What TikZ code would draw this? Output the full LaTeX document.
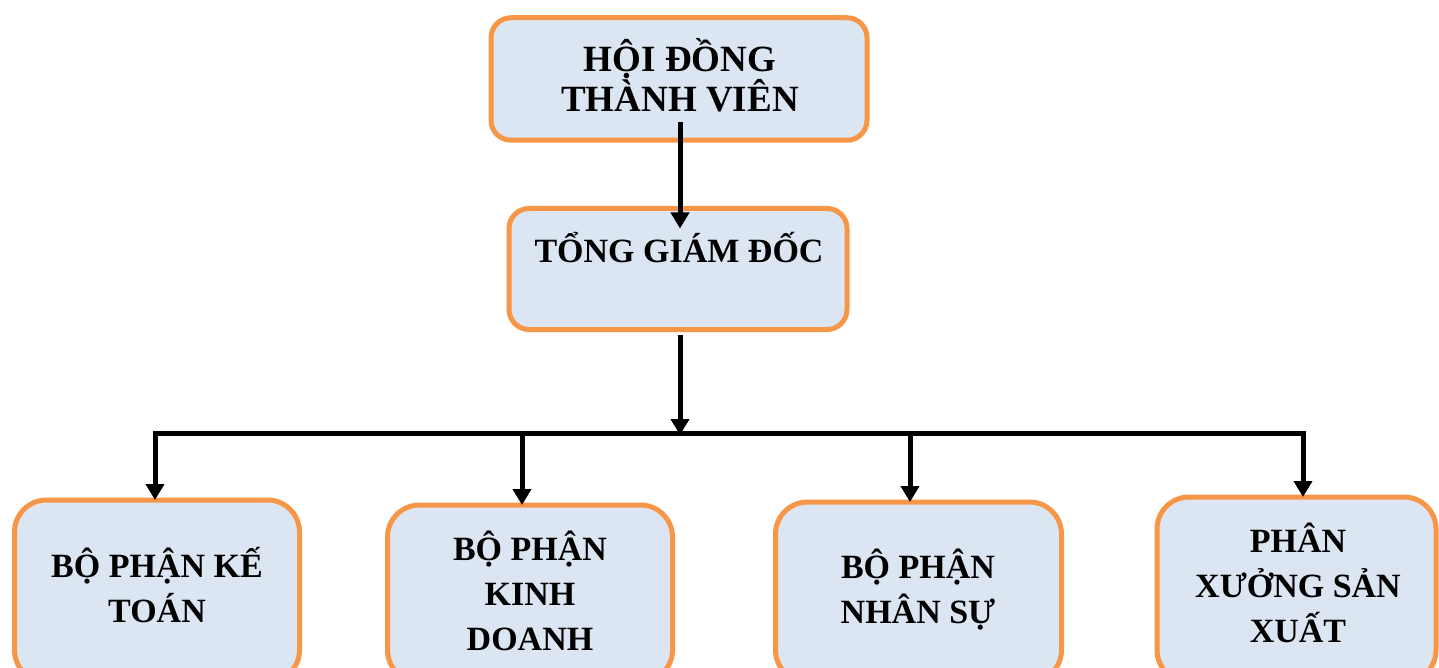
\documentclass[tikz,border=0pt]{standalone}
\usepackage{fontspec}
\setmainfont{Liberation Serif}
\usetikzlibrary{arrows.meta,calc}
\definecolor{boxfill}{HTML}{DCE6F2}
\definecolor{boxline}{HTML}{F79646}
\tikzset{
  orgbox/.style={draw=boxline, line width=5pt, fill=boxfill, rounded corners=#1,
    rectangle, inner sep=0pt, outer sep=0pt},
  orgbox/.default=20pt,
  toptext/.style={font=\bfseries\fontsize{37}{40}\selectfont, align=center, inner sep=0pt, anchor=base},
  subtext/.style={font=\bfseries\fontsize{34}{45}\selectfont, align=center, inner sep=0pt, anchor=base},
  conn/.style={line width=5pt, -{Triangle[width=18pt,length=16pt]}},
  plain/.style={line width=5pt},
}
\begin{document}
\begin{tikzpicture}[x=1pt,y=-1pt]
\useasboundingbox (0,0) rectangle (1439,668);
\clip (0,0) rectangle (1439,668);
% boxes
\node[orgbox, minimum width=376pt, minimum height=122.5pt] (hdtv) at (679,79) {};
\node[orgbox, minimum width=338pt, minimum height=121pt] (tgd) at (678,269) {};
\node[orgbox=32pt, minimum width=285pt, minimum height=182pt] (b1) at (157,591) {};
\node[orgbox=32pt, minimum width=285pt, minimum height=177pt] (b2) at (530,593.5) {};
\node[orgbox=32pt, minimum width=286pt, minimum height=180pt] (b3) at (918.5,592) {};
\node[orgbox=32pt, minimum width=279pt, minimum height=185pt] (b4) at (1296.5,589.5) {};
% texts (base anchor = baseline of the last line)
\node[toptext] (t0) at (680,112) {HỘI ĐỒNG\\THÀNH VIÊN};
\node[subtext] (t1) at (679,262) {TỔNG GIÁM ĐỐC};
\node[subtext] (t2) at (157,622) {BỘ PHẬN KẾ\\TOÁN};
\node[subtext] (t3) at (530,650) {BỘ PHẬN\\KINH\\DOANH};
\node[subtext] (t4) at (918,623) {BỘ PHẬN\\NHÂN SỰ};
\node[subtext] (t5) at (1298,642) {PHÂN\\XƯỞNG SẢN\\XUẤT};
% connector points
\coordinate (bus) at (680,433);
\coordinate (d1) at ([xshift=-2pt]b1.north);
\coordinate (d2) at ([xshift=-8pt]b2.north);
\coordinate (d3) at ([xshift=-8.5pt]b3.north);
\coordinate (d4) at ([xshift=6.5pt]b4.north);
% connectors
\draw[conn] ($(hdtv.south)+(1,-18)$) -- ($(tgd.north)+(2,20)$);
\draw[conn] ($(tgd.south)+(2,5)$) -- ($(bus)+(0,2)$);
\draw[plain] ($(d1 |- bus)+(-2.5,0)$) -- ($(d4 |- bus)+(2.5,0)$);
\draw[conn] ($(d1 |- bus)+(0,-2.5)$) -- (d1);
\draw[conn] (d2 |- bus) -- (d2);
\draw[conn] (d3 |- bus) -- (d3);
\draw[conn] ($(d4 |- bus)+(0,-2.5)$) -- (d4);
\end{tikzpicture}
\end{document}
